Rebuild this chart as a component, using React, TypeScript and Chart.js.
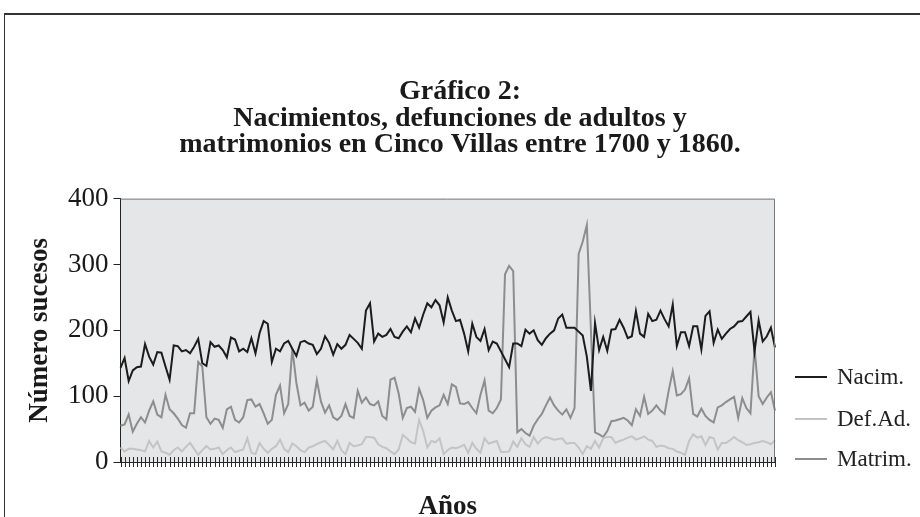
import React, { useEffect, useRef } from "react";
import { Chart, registerables } from "chart.js";

Chart.register(...registerables);

const YEARS: string[] = Array.from({ length: 161 }, (_, i) => String(1700 + i));

const NACIM = [
  143, 158, 123, 139, 144, 145, 179, 160, 148, 167,
  166, 145, 125, 177, 176, 168, 170, 165, 175, 187,
  150, 146, 182, 175, 177, 170, 159, 189, 186, 168,
  172, 167, 188, 165, 196, 214, 210, 152, 172, 168,
  180, 184, 172, 161, 182, 184, 180, 178, 164, 172,
  191, 181, 163, 179, 172, 178, 193, 187, 181, 172,
  230, 241, 183, 195, 190, 193, 202, 190, 188, 198,
  206, 197, 218, 204, 224, 241, 235, 246, 238, 212,
  250, 230, 214, 216, 195, 168, 210, 190, 184, 202,
  170, 183, 180, 168, 156, 144, 180, 180, 176, 201,
  195, 200, 185, 178, 188, 195, 200, 218, 224, 204,
  204, 204, 198, 192, 160, 108, 211, 170, 190, 169,
  201, 202, 216, 204, 188, 191, 229, 195, 190, 225,
  214, 216, 230, 217, 206, 239, 176, 197, 197, 176,
  206, 206, 171, 222, 229, 181, 201, 187, 195, 202,
  206, 213, 214, 221, 228, 168, 215, 183, 191, 204,
  174,
];

const DEFAD = [
  22, 16, 20, 20, 19, 18, 16, 32, 22, 31,
  16, 14, 11, 18, 22, 16, 23, 29, 20, 11,
  18, 24, 19, 20, 22, 12, 18, 22, 15, 17,
  19, 36, 14, 12, 29, 20, 14, 20, 24, 34,
  20, 15, 28, 24, 18, 15, 22, 24, 27, 30,
  32, 26, 19, 32, 18, 12, 29, 24, 25, 27,
  38, 38, 37, 27, 23, 21, 16, 12, 19, 41,
  36, 30, 28, 64, 47, 22, 32, 30, 36, 12,
  18, 22, 21, 23, 26, 14, 29, 20, 14, 36,
  28, 30, 32, 15, 15, 16, 31, 23, 36, 27,
  23, 38, 28, 35, 38, 36, 34, 35, 36, 28,
  29, 29, 22, 12, 24, 20, 32, 22, 36, 38,
  38, 29, 32, 34, 37, 39, 34, 36, 39, 34,
  32, 23, 25, 24, 21, 20, 16, 14, 11, 32,
  42, 37, 39, 26, 38, 36, 19, 29, 29, 33,
  38, 33, 30, 26, 27, 29, 30, 32, 30, 27,
  33,
];

const MATRIM = [
  55, 57, 72, 46, 58, 68, 60, 78, 92, 72,
  68, 102, 80, 74, 66, 56, 52, 74, 74, 152,
  145, 68, 58, 66, 64, 52, 80, 84, 64, 60,
  68, 94, 95, 84, 88, 74, 58, 64, 102, 116,
  74, 88, 172, 120, 86, 90, 78, 84, 124, 92,
  75, 86, 68, 64, 70, 88, 70, 67, 108, 90,
  98, 88, 86, 92, 70, 65, 125, 128, 104, 67,
  82, 84, 76, 111, 94, 67, 78, 83, 86, 102,
  88, 118, 114, 89, 88, 91, 82, 74, 102, 124,
  78, 74, 82, 95, 285, 298, 290, 45, 50, 44,
  40, 55, 65, 73, 86, 98, 86, 78, 72, 80,
  67, 82, 316, 335, 360, 200, 45, 42, 38, 47,
  62, 63, 65, 67, 63, 56, 80, 70, 99, 73,
  78, 86, 78, 73, 108, 138, 101, 103, 110, 127,
  73, 69, 81, 70, 64, 60, 83, 86, 91, 95,
  99, 67, 97, 82, 74, 174, 100, 88, 98, 106,
  78,
];

const SERIES_NAMES = ["Nacim.", "Def.Ad.", "Matrim."];
const SERIES_COLORS = ["#1c1c1c", "#c4c4c4", "#8d8d8d"];
const SERIES_DATA = [NACIM, DEFAD, MATRIM];
const Y_TICKS = [0, 100, 200, 300, 400];
const TITLE_LINES = [
  "Gráfico 2:",
  "Nacimientos, defunciones de adultos y",
  "matrimonios en Cinco Villas entre 1700 y 1860.",
];
const Y_TITLE = "Número sucesos";
const X_TITLE = "Años";

const SERIF = "'Liberation Serif', 'Times New Roman', serif";

const plotFrame = {
  id: "plotFrame",
  beforeDraw(chart: any) {
    const { ctx, chartArea } = chart;
    const { left, top, right, bottom } = chartArea;
    ctx.save();
    ctx.fillStyle = "#e5e6e8";
    ctx.fillRect(left, top, right - left, bottom - top);
    ctx.restore();
  },
  afterDraw(chart: any) {
    const { ctx, chartArea } = chart;
    const { left, top, right, bottom } = chartArea;
    ctx.save();
    ctx.strokeStyle = "#777";
    ctx.lineWidth = 1;
    ctx.beginPath();
    ctx.moveTo(left, top + 0.5);
    ctx.lineTo(right - 0.5, top + 0.5);
    ctx.lineTo(right - 0.5, bottom);
    ctx.stroke();
    const xs = chart.scales.x;
    ctx.strokeStyle = "#2a2a2a";
    ctx.beginPath();
    for (let i = 0; i < xs.ticks.length; i++) {
      const x = Math.round(xs.getPixelForTick(i)) + 0.5;
      ctx.moveTo(x, bottom - 5);
      ctx.lineTo(x, bottom + 5);
    }
    ctx.stroke();
    ctx.restore();
  },
};

function ChartBox() {
  const ref = useRef<HTMLCanvasElement | null>(null);
  useEffect(() => {
    if (!ref.current) return;
    const chart = new Chart(ref.current, {
      type: "line",
      data: {
        labels: YEARS,
        datasets: SERIES_NAMES.map((name, i) => ({
          label: name,
          data: SERIES_DATA[i],
          borderColor: SERIES_COLORS[i],
          backgroundColor: SERIES_COLORS[i],
          borderWidth: 2,
          pointRadius: 0,
          tension: 0,
          fill: false,
        })),
      },
      options: {
        animation: false,
        responsive: false,
        events: [],
        layout: { padding: { left: 0, right: 0, top: 0, bottom: 0 } },
        plugins: {
          legend: { display: false },
          tooltip: { enabled: false },
          title: {
            display: true,
            text: TITLE_LINES,
            color: "#1a1a1a",
            font: { family: SERIF, size: 28, weight: "bold", lineHeight: 0.96 },
            padding: { top: 78, bottom: 40 },
          },
        },
        scales: {
          x: {
            type: "category",
            offset: false,
            grid: { display: false, drawTicks: true, tickLength: 5 },
            border: { display: true, color: "#222", width: 1 },
            ticks: { display: false },
            title: {
              display: true,
              text: X_TITLE,
              color: "#1a1a1a",
              font: { family: SERIF, size: 27, weight: "bold", lineHeight: 1 },
              padding: { top: 27, bottom: -4 },
            },
          },
          y: {
            type: "linear",
            min: 0,
            max: 400,
            afterBuildTicks: (s: any) => {
              s.ticks = Y_TICKS.map((v) => ({ value: v }));
            },
            grid: { display: true, drawOnChartArea: false, drawTicks: true, tickLength: 7, color: "#222" },
            border: { display: true, color: "#222", width: 1 },
            ticks: {
              color: "#1a1a1a",
              padding: 5,
              font: { family: SERIF, size: 27 },
            },
            title: {
              display: true,
              text: Y_TITLE,
              color: "#1a1a1a",
              font: { family: SERIF, size: 27, weight: "bold", lineHeight: 1 },
              padding: { top: 27, bottom: 9 },
            },
          },
          yRight: {
            type: "linear",
            position: "right",
            display: true,
            grid: { display: false, drawTicks: false },
            border: { display: false },
            ticks: { display: false },
            afterFit: (s: any) => {
              s.width = 145;
            },
          },
        },
      },
      plugins: [plotFrame],
    } as any);
    return () => chart.destroy();
  }, []);
  return <canvas ref={ref} width={920} height={517} style={{ display: "block", width: 920, height: 517 }} />;
}

const LEGEND_CENTERS = [377, 419, 459];

export default function App() {
  return (
    <div style={{ position: "absolute", left: 0, top: 0, width: 920, height: 517, background: "#fff", overflow: "hidden" }}>
      <div
        style={{
          position: "absolute",
          left: 4,
          top: 13,
          width: 1000,
          height: 600,
          borderTop: "2px solid #333",
          borderLeft: "1.5px solid #333",
          boxSizing: "border-box",
        }}
      />
      <div style={{ position: "absolute", left: 0, top: 0 }}>
        <ChartBox />
      </div>
      {SERIES_NAMES.map((name, i) => (
        <div
          key={name}
          style={{
            position: "absolute",
            left: 795,
            top: LEGEND_CENTERS[i] - 14,
            height: 28,
            display: "flex",
            alignItems: "center",
            fontFamily: SERIF,
            fontSize: 23,
            color: "#222",
            whiteSpace: "nowrap",
          }}
        >
          <span style={{ display: "inline-block", width: 32, height: 2, background: SERIES_COLORS[i], marginRight: 10 }} />
          <span style={{ lineHeight: "28px" }}>{name}</span>
        </div>
      ))}
    </div>
  );
}
